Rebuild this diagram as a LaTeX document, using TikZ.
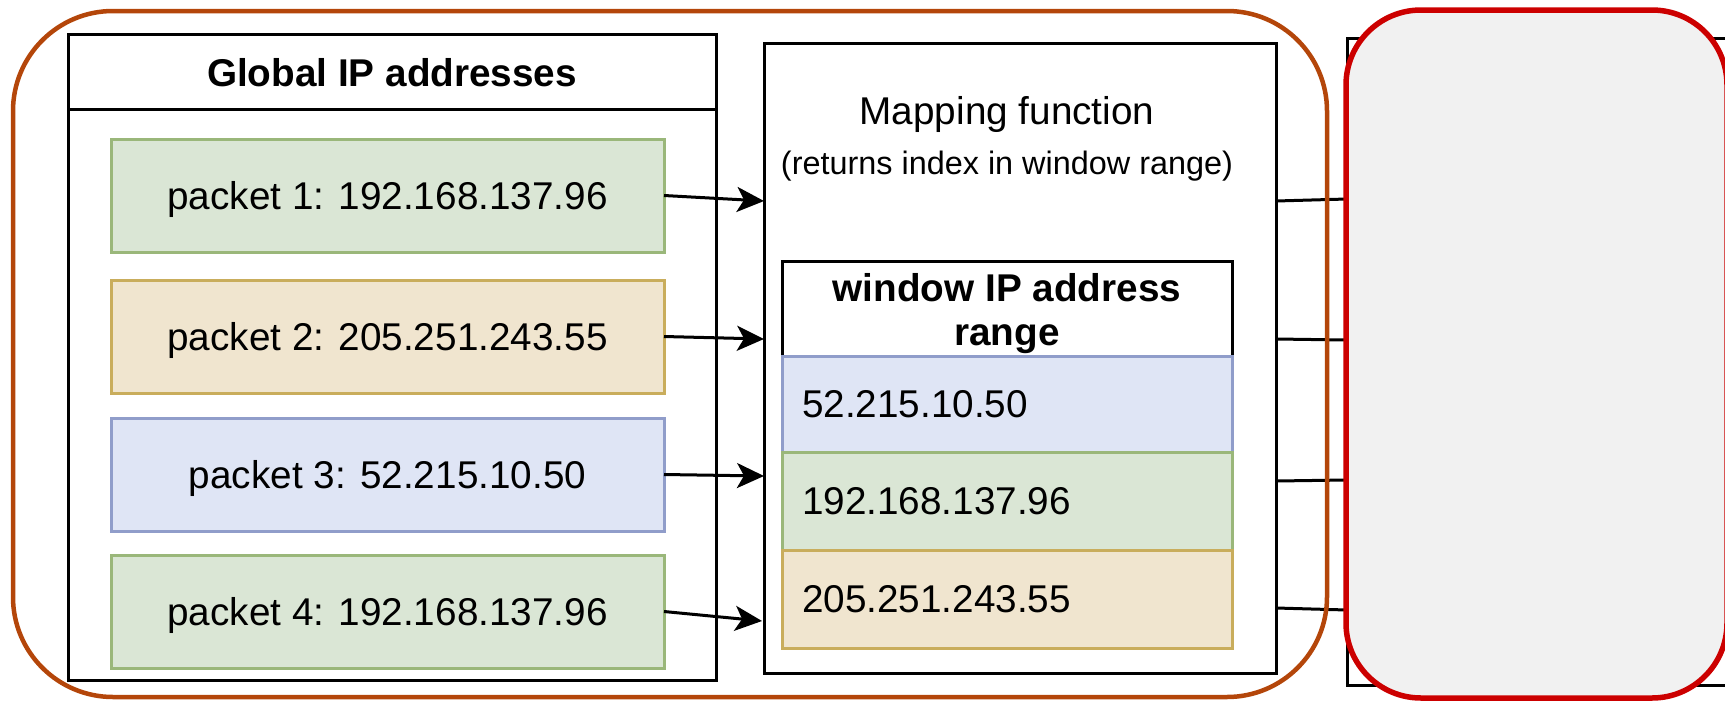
\documentclass[tikz,border=0pt]{standalone}
\usepackage{fontspec}
\setmainfont{Liberation Sans}
\usetikzlibrary{arrows.meta}
\definecolor{gfill}{HTML}{DAE6D5}
\definecolor{gline}{HTML}{9AB77A}
\definecolor{tfill}{HTML}{F0E5CF}
\definecolor{tline}{HTML}{C9AD5C}
\definecolor{bfill}{HTML}{DFE5F5}
\definecolor{bline}{HTML}{909DCA}
\definecolor{orangeline}{HTML}{B4460A}
\definecolor{redline}{HTML}{CC0000}
\definecolor{greyfill}{HTML}{F1F1F1}
\newcommand\mainsz{\fontsize{38.7pt}{44pt}\selectfont}
\newcommand\subsz{\fontsize{32.4pt}{38pt}\selectfont}
\begin{document}
\begin{tikzpicture}[x=1pt,y=-1pt,
  box/.style={draw=black, line width=3pt, inner sep=0pt, outer sep=0pt, anchor=north west, font=\mainsz},
  pk/.style={box, minimum width=553pt, minimum height=113pt, text depth=0pt},
  pkg/.style={pk, draw=gline, fill=gfill},
  pkt/.style={pk, draw=tline, fill=tfill},
  pkb/.style={pk, draw=bline, fill=bfill},
  row/.style={box, minimum width=450pt, text width=410pt, inner xsep=20pt, align=left},
  arr/.style={draw=black, line width=3pt, -{Stealth[length=27pt,width=25pt,inset=7pt]}},
  ln/.style={draw=black, line width=3pt},
  lbl/.style={inner sep=0pt, font=\mainsz}]
\useasboundingbox (0,0) rectangle (1725,702);

% Global IP addresses container
\node[box, minimum width=648pt, minimum height=646pt] (global) at (68,34) {};
\node[box, minimum width=648pt, minimum height=75pt] (globalhead) at (68,34) {};
\node[lbl, font=\mainsz\bfseries] (globaltitle) at (392,72.5) {Global IP addresses};

% packets
\node[pkg] (p1) at (111,139) {packet 1: 192.168.137.96};
\node[pkt] (p2) at (111,280) {packet 2: 205.251.243.55};
\node[pkb] (p3) at (111,418) {packet 3: 52.215.10.50};
\node[pkg] (p4) at (111,555) {packet 4: 192.168.137.96};

% mapping function
\node[box, minimum width=512pt, minimum height=630pt] (map) at (764,43) {};
\node[lbl] (maptitle) at (1007,114.5) {Mapping function};
\node[lbl, font=\subsz] (mapsub) at (1007,166.5) {(returns index in window range)};

% window table
\node[box, minimum width=450pt, minimum height=95pt] (winhead) at (782,261) {};
\node[lbl, align=center, font=\mainsz\bfseries] (wintitle) at (1007,314) {window IP address\\range};
\node[row, minimum height=96pt, draw=bline, fill=bfill] (w1) at (782,356) {52.215.10.50};
\node[row, minimum height=98pt, draw=gline, fill=gfill] (w2) at (782,452) {192.168.137.96};
\node[row, minimum height=98pt, draw=tline, fill=tfill] (w3) at (782,550) {205.251.243.55};

% arrows into mapping
\coordinate (m1) at (764,201);
\coordinate (m2) at (764,339);
\coordinate (m3) at (764,476);
\coordinate (m4) at (762,621);
\draw[arr] (p1.east) -- (m1);
\draw[arr] (p2.east) -- (m2);
\draw[arr] (p3.east) -- (m3);
\draw[arr] (p4.east) -- (m4);

% hidden box behind the red panel
\node[box, minimum width=400pt, minimum height=647pt] (hidden) at (1347,38) {};

% lines to the right
\coordinate (a1) at (1276,201); \coordinate (b1) at (1347,199);
\coordinate (a2) at (1276,339); \coordinate (b2) at (1347,340);
\coordinate (a3) at (1276,481); \coordinate (b3) at (1347,480);
\coordinate (a4) at (1276,608); \coordinate (b4) at (1347,610);
\draw[ln] (a1) -- (b1);
\draw[ln] (a2) -- (b2);
\draw[ln] (a3) -- (b3);
\draw[ln] (a4) -- (b4);

% orange outline
\node[draw=orangeline, line width=4.5pt, rounded corners=100pt, minimum width=1314pt, minimum height=686pt, inner sep=0pt, outer sep=0pt, anchor=north west] (orange) at (13,11) {};

% red panel
\node[draw=redline, fill=greyfill, line width=5.5pt, rounded corners=75pt, minimum width=381pt, minimum height=688pt, inner sep=0pt, outer sep=0pt, anchor=north west] (red) at (1346,10) {};
\end{tikzpicture}
\end{document}
